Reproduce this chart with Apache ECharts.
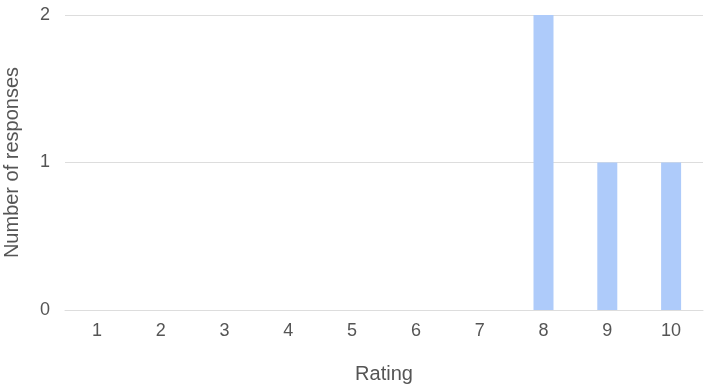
<!DOCTYPE html>
<html><head><meta charset="utf-8">
<script src="https://cdn.jsdelivr.net/npm/echarts@6/dist/echarts.min.js"></script>
<style>html,body{margin:0;padding:0;background:#fff}#c{width:705px;height:390px}</style>
</head><body><div id="c"></div>
<script>
var categories = ['1','2','3','4','5','6','7','8','9','10'];
var responses = [0,0,0,0,0,0,0,2,1,1];
var yTicks = [0,1,2];
var chart = echarts.init(document.getElementById('c'), null, {renderer:'canvas'});
var font = '"Liberation Sans", Arial, sans-serif';
chart.setOption({
  animation:false,
  grid:{left:65,right:2,top:15,bottom:80,containLabel:false,outerBoundsMode:'none'},
  xAxis:{type:'category',data:categories,
    name:'Rating',nameLocation:'middle',nameGap:54,
    nameTextStyle:{color:'#555',fontSize:20,fontFamily:font},
    axisLine:{show:true,lineStyle:{color:'#ddd',width:1}},
    axisTick:{show:false},
    axisLabel:{color:'#555',fontSize:18,fontFamily:font,margin:12}},
  yAxis:{type:'value',min:yTicks[0],max:yTicks[yTicks.length-1],interval:1,
    name:'Number of responses',nameLocation:'middle',nameGap:43,
    nameTextStyle:{color:'#555',fontSize:20,fontFamily:font},
    axisLine:{show:false},axisTick:{show:false},
    splitLine:{lineStyle:{color:'#ddd',width:1}},
    axisLabel:{color:'#555',fontSize:18,fontFamily:font,margin:15}},
  series:[{type:'bar',data:responses,barWidth:20,itemStyle:{color:'#aecbfa'}}]
});
</script></body></html>
